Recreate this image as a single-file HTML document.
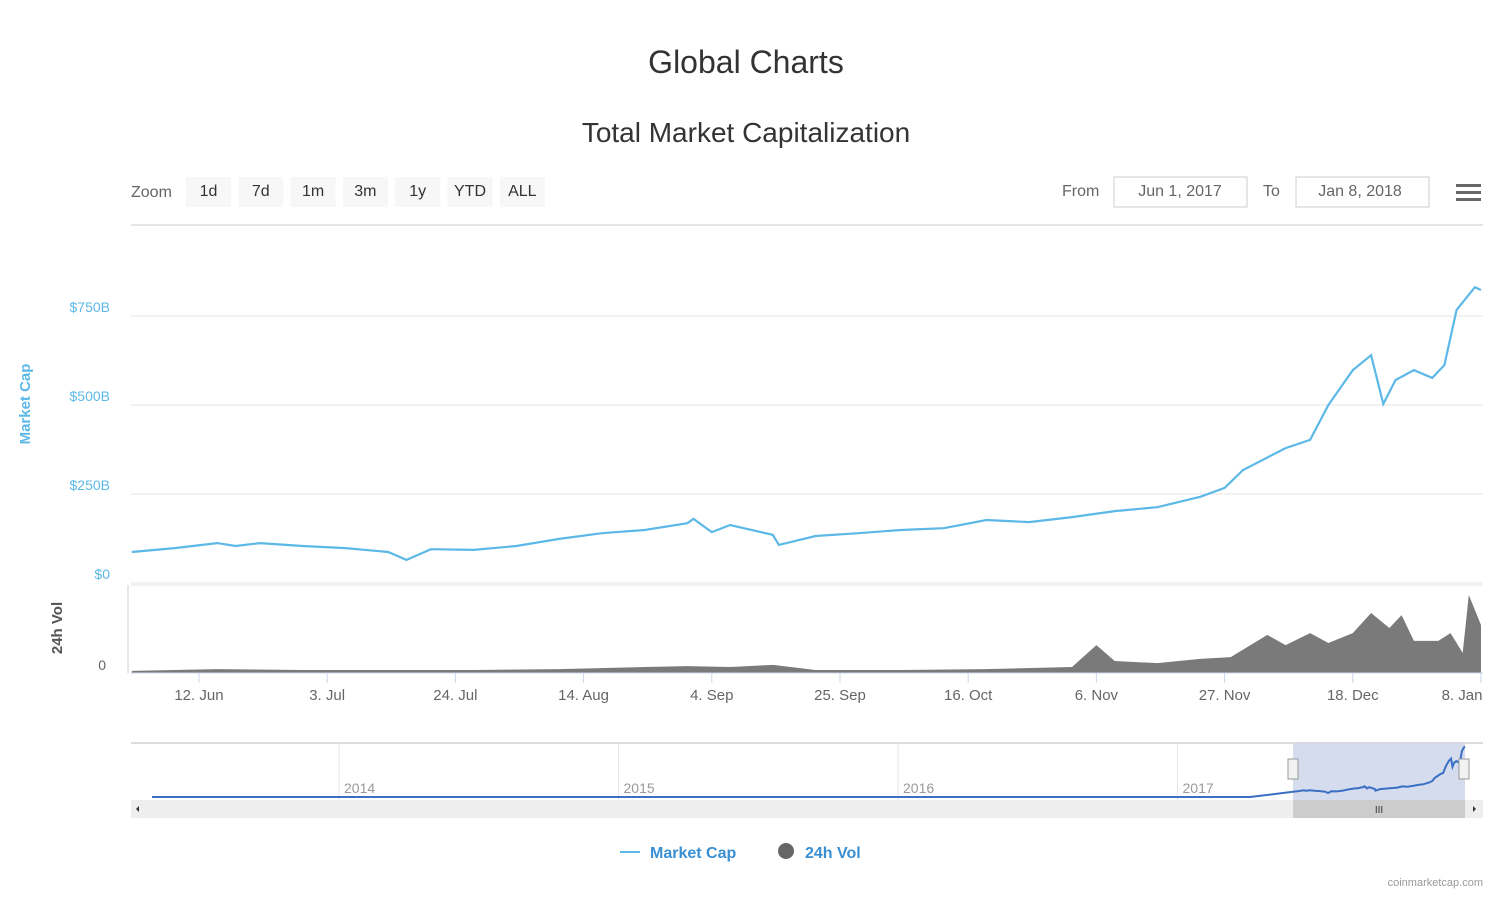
<!DOCTYPE html>
<html><head><meta charset="utf-8"><style>
body{margin:0;background:#fff;font-family:"Liberation Sans",sans-serif}
svg text{font-family:"Liberation Sans",sans-serif}
</style></head><body>
<svg width="1500" height="900" viewBox="0 0 1500 900">
<text x="746" y="73" font-size="32" text-anchor="middle" fill="#333">Global Charts</text>
<text x="746" y="142" font-size="28" text-anchor="middle" fill="#333">Total Market Capitalization</text>
<text x="131" y="197" font-size="16" fill="#666">Zoom</text>
<g id="zoomBtns"></g>
<text x="1062" y="196" font-size="16" fill="#666">From</text>
<rect x="1114" y="177" width="133" height="30" fill="#fff" stroke="#ccc"/>
<text x="1180" y="196" font-size="16" fill="#666" text-anchor="middle">Jun 1, 2017</text>
<text x="1263" y="196" font-size="16" fill="#666">To</text>
<rect x="1296" y="177" width="133" height="30" fill="#fff" stroke="#ccc"/>
<text x="1360" y="196" font-size="16" fill="#666" text-anchor="middle">Jan 8, 2018</text>
<g fill="#666"><rect x="1456" y="184" width="25" height="3"/><rect x="1456" y="191" width="25" height="3"/><rect x="1456" y="198" width="25" height="3"/></g>
<line x1="131" y1="225" x2="1483" y2="225" stroke="#e6e6e6" stroke-width="2"/>
<g id="grid"></g>
<text transform="translate(30,404) rotate(-90)" font-size="15" font-weight="bold" fill="#5cb8e6" text-anchor="middle">Market Cap</text>
<text transform="translate(62,628) rotate(-90)" font-size="15" font-weight="bold" fill="#555" text-anchor="middle">24h Vol</text>
<text x="106" y="670" font-size="14" fill="#666" text-anchor="end">0</text>
<line x1="128" y1="585" x2="128" y2="673" stroke="#ccc"/>
<g id="vol"></g>
<path id="mcap" fill="none" stroke="#5cb8e6" stroke-width="2.2"/>
<line x1="131" y1="673" x2="1483" y2="673" stroke="#ccd6eb"/>
<g id="xt"></g>
<g>
<line x1="131" y1="743" x2="1483" y2="743" stroke="#ddd" stroke-width="2"/>
<rect x="1293" y="743" width="172" height="57" fill="#ccd6eb" fill-opacity="0.85"/>
<g id="navyears"></g>
<path id="navline" fill="none" stroke="#3b6fc4" stroke-width="2"/>
<rect x="1288" y="759" width="10" height="20" fill="#f2f2f2" stroke="#999"/>
<rect x="1459" y="759" width="10" height="20" fill="#f2f2f2" stroke="#999"/>
<rect x="131" y="800" width="1352" height="18" fill="#eee"/>
<rect x="1293" y="800" width="172" height="18" fill="#ccc"/>
<text x="1379" y="813" font-size="10" fill="#333" text-anchor="middle">III</text>
<path d="M139 806 L139 812 L136 809Z" fill="#333"/>
<path d="M1473 806 L1473 812 L1476 809Z" fill="#333"/>
</g>
<g><line x1="620" y1="852" x2="640" y2="852" stroke="#5cb8e6" stroke-width="2"/><text x="650" y="858" font-size="16" font-weight="bold" fill="#3a8fd3">Market Cap</text></g>
<g><circle cx="786" cy="851" r="8" fill="#666"/><text x="805" y="858" font-size="16" font-weight="bold" fill="#3a8fd3">24h Vol</text></g>
<text x="1483" y="886" font-size="11" fill="#999" text-anchor="end">coinmarketcap.com</text>
</svg>
<script>
const mcapDays=[0,7,14,17,21,28,35,42,45,49,56,63,70,77,84,91,92,95,98,105,106,112,119,126,133,140,147,154,161,168,175,179,182,189,193,196,200,203,205,207,210,213,215,217,220,221];
const mcapVals=[87,98,112,104,112,104,98,87,65,95,93,104,124,140,149,168,180,143,163,135,107,132,140,149,154,177,171,185,202,213,242,267,317,379,402,500,598,640,503,570,598,576,612,767,831,823];
const volDays=[0,14,28,42,56,70,84,91,98,105,112,126,140,154,158,161,168,175,180,186,189,193,196,200,203,206,208,210,214,216,218,219,221];
const volVals=[0.7,1.3,1,1,1,1.3,2,2.3,2,2.7,1,1,1.3,2,9.3,4,3.3,4.7,5.3,12.7,9.3,13.3,10,13.3,20,15,19.3,10.7,10.7,13.3,6.7,26,16];
const yTicks=[0,250,500,750];
const yLabels=["$0","$250B","$500B","$750B"];
const xTickDays=[11,32,53,74,95,116,137,158,179,200,221];
const xLabels=["12. Jun","3. Jul","24. Jul","14. Aug","4. Sep","25. Sep","16. Oct","6. Nov","27. Nov","18. Dec","8. Jan"];
const zoomLabels=["1d","7d","1m","3m","1y","YTD","ALL"];
const navYears=["2014","2015","2016","2017"];
const NS="http://www.w3.org/2000/svg";
const X=d=>131.8+d*6.105, Y=v=>583-v*0.356, VY=v=>673-v*3;
function mk(t,a,p){const e=document.createElementNS(NS,t);for(const k in a)e.setAttribute(k,a[k]);p.appendChild(e);return e;}
const zb=document.getElementById('zoomBtns');
zoomLabels.forEach((l,i)=>{const x=186+i*52.3;
const r=mk('rect',{x:x,y:177,width:45,height:30,fill:'#f7f7f7'},zb);


const t=mk('text',{x:x+22.5,y:196,'font-size':16,fill:'#333','text-anchor':'middle'},zb);t.textContent=l;});
const g=document.getElementById('grid');
yTicks.forEach((v,i)=>{mk('line',{x1:131,x2:1483,y1:Y(v),y2:Y(v),stroke:'#e6e6e6'},g);
const t=mk('text',{x:110,y:Y(v)-4,'font-size':14,fill:'#5cb8e6','text-anchor':'end'},g);t.textContent=yLabels[i];

});
mk('line',{x1:131,x2:1483,y1:585,y2:585,stroke:'#e6e6e6'},g);
let d='';mcapDays.forEach((dd,i)=>{d+=(i?'L':'M')+X(dd).toFixed(1)+' '+Y(mcapVals[i]).toFixed(1);});
document.getElementById('mcap').setAttribute('d',d);
let vd='M'+X(0)+' 673';volDays.forEach((dd,i)=>{vd+='L'+X(dd).toFixed(1)+' '+VY(volVals[i]).toFixed(1);});vd+='L'+X(221)+' 673Z';
const vp=mk('path',{d:vd,fill:'#7a7a7a'},document.getElementById('vol'));


const xt=document.getElementById('xt');
xTickDays.forEach((dd,i)=>{mk('line',{x1:X(dd),x2:X(dd),y1:673,y2:683,stroke:'#ccd6eb'},xt);
const t=mk('text',{x:Math.min(X(dd),1462),y:700,'font-size':15,fill:'#666','text-anchor':'middle'},xt);t.textContent=xLabels[i];

});
const ny=document.getElementById('navyears');
navYears.forEach((y,i)=>{const x=339+i*279.5;mk('line',{x1:x,x2:x,y1:743,y2:800,stroke:'#e6e6e6'},ny);
const t=mk('text',{x:x+5,y:793,'font-size':14,fill:'#999'},ny);t.textContent=y;});
// navigator: overview maps the mcap series into the highlighted range; earlier years flat
const NX=d=>1293+d*(172/221), NY=v=>797-v*0.06;
let nd='M152 797 L1250 797 L1293 '+NY(mcapVals[0]).toFixed(1);
mcapDays.forEach((dd,i)=>{nd+='L'+NX(dd).toFixed(1)+' '+NY(mcapVals[i]).toFixed(1);});
document.getElementById('navline').setAttribute('d',nd);
</script>
</body></html>
